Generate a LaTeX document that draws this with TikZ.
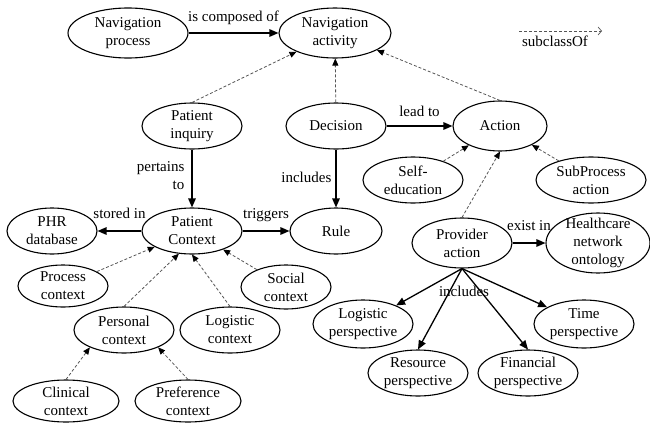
\documentclass[tikz,border=0pt]{standalone}
\usepackage{fontspec}
\setmainfont{Liberation Serif}
\usepackage{tikz}
\usetikzlibrary{arrows.meta,shapes.geometric}
\definecolor{ink}{HTML}{000000}
\definecolor{subgray}{HTML}{555555}
\tikzset{
  concept/.style={ellipse, draw=ink, line width=1.1pt, inner sep=0pt, minimum width=100pt, minimum height=46pt, align=center, text=ink},
  relarr/.style={-{Triangle[length=9pt,width=7.5pt]}, draw=ink, line width=1.3pt},
  subarr/.style={-{Triangle[length=7pt,width=6pt,color=ink]}, draw=subgray, line width=0.8pt, dash pattern=on 3pt off 2pt},
  legarr/.style={-{Straight Barb[length=3.5pt,width=8pt,line width=0.7pt]}, draw=subgray, line width=0.7pt, dash pattern=on 3pt off 2pt},
  rellabel/.style={text=ink, inner sep=1pt, text height=10pt, text depth=3pt}
}

\begin{document}
\begin{tikzpicture}[x=1pt, y=-1pt, font=\fontsize{15}{18}\selectfont]
  \useasboundingbox (0,0) rectangle (650,423);

  \node[concept, minimum width=120pt, minimum height=50pt] (navproc) at (128,33) {Navigation\\process};
  \node[concept, minimum width=112pt, minimum height=50pt] (navact) at (335,33) {Navigation\\activity};

  \node[concept] (inquiry) at (192,126) {Patient\\inquiry};
  \node[concept] (decision) at (336,126) {Decision};
  \node[concept, minimum width=94pt, minimum height=50pt] (action) at (500,126) {Action};
  \node[concept] (selfedu) at (413,180) {Self-\\education};
  \node[concept, minimum width=110pt] (subproc) at (591,180) {SubProcess\\action};

  \node[concept] (ptctx) at (192,231) {Patient\\Context};
  \node[concept, minimum width=90pt] (phr) at (52,231) {PHR\\database};
  \node[concept, minimum width=92pt] (rule) at (336,231) {Rule};
  \node[concept, minimum width=90pt, minimum height=42pt] (procctx) at (63,286) {Process\\context};
  \node[concept, minimum width=90pt, minimum height=44pt] (socctx) at (286,287) {Social\\context};
  \node[concept] (perctx) at (124,330) {Personal\\context};
  \node[concept] (logctx) at (230,330) {Logistic\\context};
  \node[concept, minimum width=106pt, minimum height=42pt] (clinctx) at (66,401) {Clinical\\context};
  \node[concept, minimum width=106pt, minimum height=42pt] (prefctx) at (188,401) {Preference\\context};

  \node[concept, minimum height=50pt] (provider) at (462,243) {Provider\\action};
  \node[concept, minimum width=104pt, minimum height=60pt, inner ysep=-4pt] (health) at (598,243) {Healthcare\\network\\ontology};
  \node[concept, minimum height=48pt] (logpers) at (363,324) {Logistic\\perspective};
  \node[concept] (respers) at (418,373) {Resource\\perspective};
  \node[concept] (finpers) at (528,373) {Financial\\perspective};
  \node[concept, minimum height=48pt] (timepers) at (584,324) {Time\\perspective};

  \coordinate (legstart) at (519,31);
  \coordinate (legend) at (602,31);
  \draw[legarr] (legstart) -- (legend);
  \node[rellabel] (legtext) at (555,43) {subclassOf};

  \draw[relarr] (navproc) -- node[rellabel, above=6.5pt] (complbl) {is composed of} (navact);
  \draw[relarr] (decision) -- node[rellabel, above=5pt] (leadlbl) {lead to} (action);
  \draw[relarr] (decision) -- node[rellabel, left=3pt] (inclbl) {includes} (rule);
  \draw[relarr] (inquiry) -- node[pos=0.45, inner sep=1pt, left=6pt, align=right] (pertlbl) {pertains\\to} (ptctx);
  \draw[relarr] (ptctx) -- node[rellabel, above=8pt] (storlbl) {stored in} (phr);
  \draw[relarr] (ptctx) -- node[rellabel, above=8pt] (triglbl) {triggers} (rule);
  \draw[relarr] (provider) -- node[rellabel, above=8pt] (existlbl) {exist in} (health);

  \draw[relarr] (provider.south) -- (logpers);
  \draw[relarr] (provider.south) -- (respers.north);
  \draw[relarr] (provider.south) -- (finpers.north);
  \draw[relarr] (provider.south) -- (timepers);
  \node[rellabel] (provincl) at (464,293) {includes};

  \draw[subarr] (inquiry.north) -- (navact);
  \draw[subarr] (decision) -- (navact);
  \draw[subarr] (action.north) -- (navact);
  \draw[subarr] (selfedu) -- (action);
  \draw[subarr] (subproc) -- (action);
  \draw[subarr] (provider.north) -- (action.south);

  \draw[subarr] (procctx) -- (ptctx);
  \draw[subarr] (perctx.north) -- (ptctx.240);
  \draw[subarr] (logctx.north) -- (ptctx.south);
  \draw[subarr] (socctx) -- (ptctx);
  \draw[subarr] (clinctx.north) -- (perctx.207);
  \draw[subarr] (prefctx.north) -- (perctx.333);
\end{tikzpicture}
\end{document}
